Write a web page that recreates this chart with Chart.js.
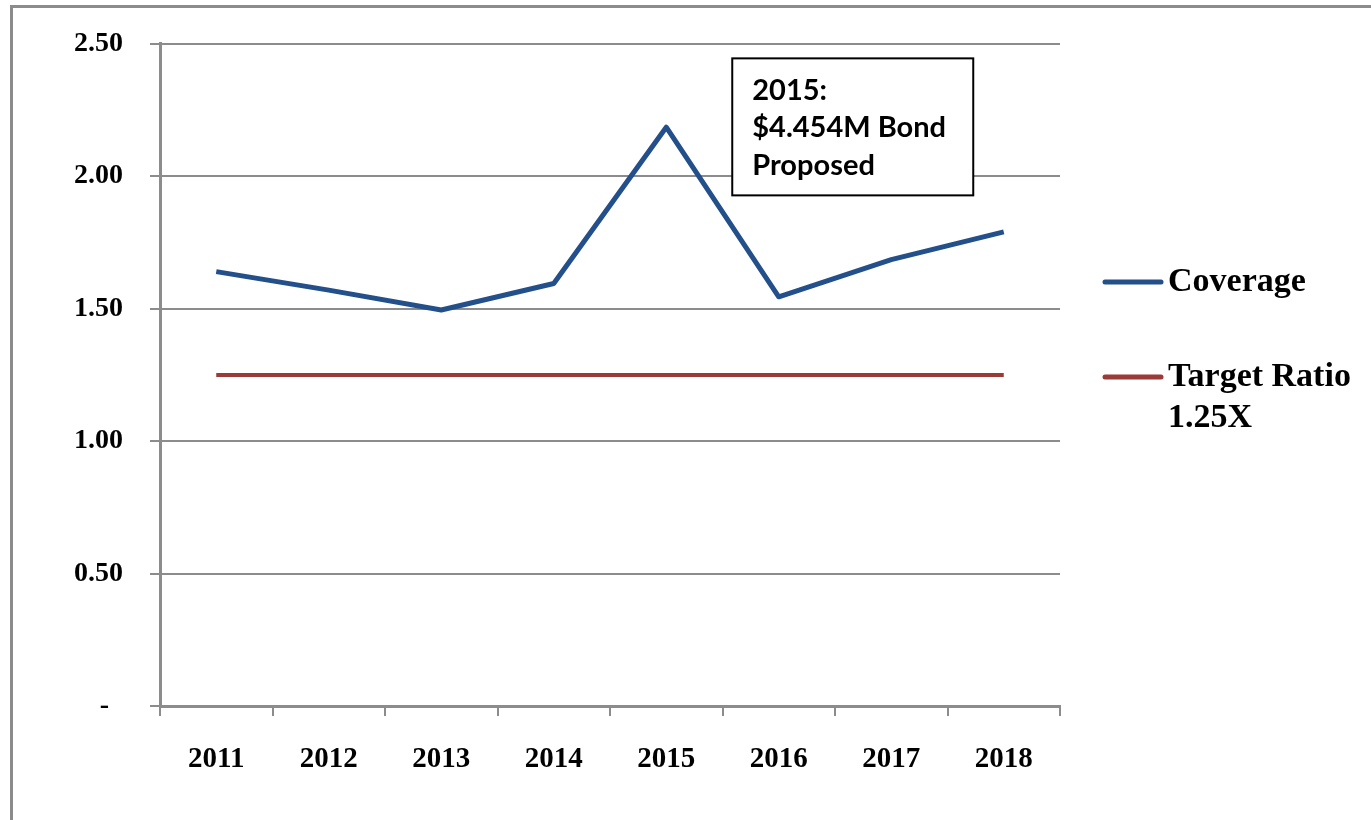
<!DOCTYPE html>
<html>
<head>
<meta charset="utf-8">
<script src="https://cdn.jsdelivr.net/npm/chart.js@4.4.0/dist/chart.umd.min.js"></script>
<style>
  html, body { margin: 0; padding: 0; background: #fff; }
  #wrap { width: 1371px; height: 820px; position: relative; }
</style>
</head>
<body>
<div id="wrap"><canvas id="ratioChart" width="1371" height="820"></canvas></div>
<script>
var years = ["2011", "2012", "2013", "2014", "2015", "2016", "2017", "2018"];
var coverage = [1.64, 1.57, 1.495, 1.595, 2.185, 1.545, 1.685, 1.79];
var targetRatio = [1.25, 1.25, 1.25, 1.25, 1.25, 1.25, 1.25, 1.25];
var yTicks = [0, 0.5, 1.0, 1.5, 2.0, 2.5];
var noteLines = ["2015:", "$4.454M Bond", "Proposed"];

var serif = "'Liberation Serif', 'DejaVu Serif', serif";

// outer frame + note box + legend drawn by hand
var extras = {
    id: 'extras',
    afterDraw: function (chart) {
        var ctx = chart.ctx;
        var x = chart.scales.x, y = chart.scales.y;
        ctx.save();

        ctx.strokeStyle = '#8c8c8c';
        ctx.lineWidth = 3;
        ctx.strokeRect(11.5, 6.5, 1500, 1000);

        // note box next to the 2015 peak
        var bx = x.getPixelForValue(4) + 66;
        var by = y.getPixelForValue(2.445);
        ctx.fillStyle = '#fff';
        ctx.fillRect(bx, by, 241, 137);
        ctx.strokeStyle = '#000';
        ctx.lineWidth = 2;
        ctx.strokeRect(bx, by, 241, 137);
        ctx.fillStyle = '#000';
        ctx.font = "bold 29px Lato, 'Liberation Sans', sans-serif";
        ctx.textBaseline = 'middle';
        for (var i = 0; i < noteLines.length; i++) {
            ctx.fillText(noteLines[i], bx + 20, by + 32 + i * 37.5);
        }

        // legend
        var ds = chart.data.datasets;
        var ly = [282, 377];
        ctx.font = "bold 34px " + serif;
        ctx.lineCap = 'round';
        for (var j = 0; j < ds.length; j++) {
            ctx.strokeStyle = ds[j].borderColor;
            ctx.lineWidth = 5;
            ctx.beginPath();
            ctx.moveTo(1105, ly[j]);
            ctx.lineTo(1161, ly[j]);
            ctx.stroke();
            ctx.fillStyle = '#000';
            ctx.textBaseline = 'middle';
            var txt = [].concat(ds[j].label);
            for (var k = 0; k < txt.length; k++) {
                ctx.fillText(txt[k], 1168, ly[j] + k * 41);
            }
        }
        ctx.restore();
    }
};

new Chart(document.getElementById('ratioChart'), {
    type: 'line',
    data: {
        labels: years,
        datasets: [{
            label: 'Coverage',
            data: coverage,
            borderColor: '#234f8a',
            borderWidth: 5,
            pointRadius: 0,
            tension: 0,
            borderJoinStyle: 'round'
        }, {
            label: ['Target Ratio', '1.25X'],
            data: targetRatio,
            borderColor: '#9b3a36',
            borderWidth: 4,
            pointRadius: 0
        }]
    },
    options: {
        responsive: false,
        animation: false,
        layout: { padding: { left: 0, top: 42, right: 311, bottom: 0 } },
        plugins: { legend: { display: false }, tooltip: { enabled: false } },
        scales: {
            x: {
                offset: true,
                grid: { drawOnChartArea: false, color: '#8c8c8c', lineWidth: 2, tickLength: 10, offset: true },
                border: { color: '#8c8c8c', width: 3 },
                ticks: { color: '#000', font: { family: serif, size: 29, weight: 'bold' }, padding: 26, maxRotation: 0 },
                afterFit: function (s) { s.height = 114; }
            },
            y: {
                min: 0,
                max: 2.5,
                afterBuildTicks: function (s) {
                    s.ticks = yTicks.map(function (v) { return { value: v }; });
                },
                grid: { color: '#8c8c8c', lineWidth: 2, tickLength: 10 },
                border: { color: '#8c8c8c', width: 3 },
                ticks: {
                    color: '#000',
                    font: { family: serif, size: 28, weight: 'bold' },
                    padding: 27,
                    callback: function (v) { return v === 0 ? '-  ' : v.toFixed(2); }
                },
                afterFit: function (s) { s.width = 160; }
            }
        }
    },
    plugins: [extras]
});
</script>
</body>
</html>
